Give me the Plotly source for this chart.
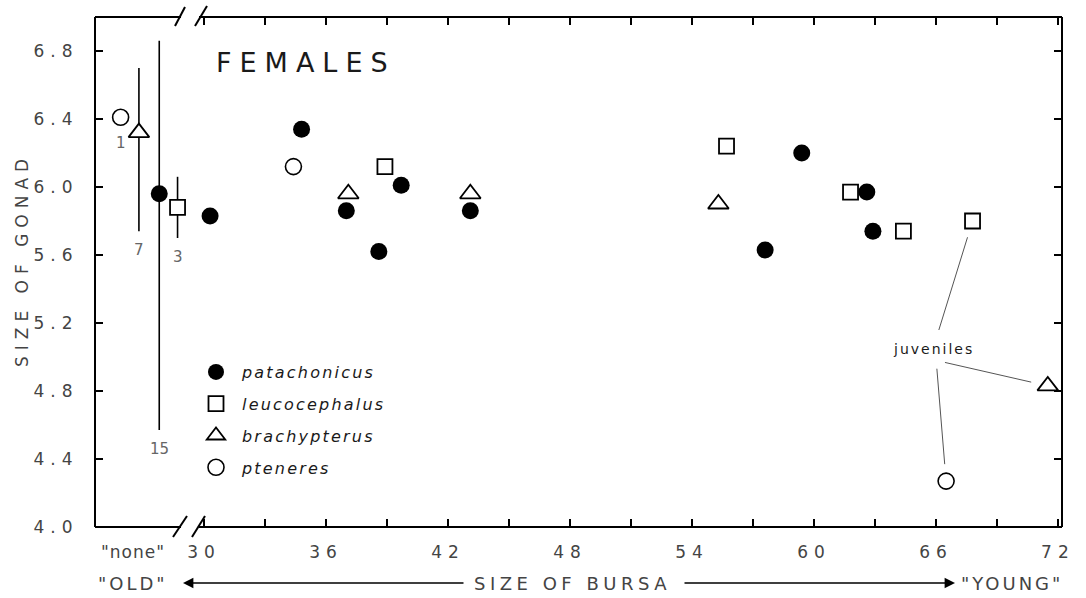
import plotly.graph_objects as go

# ---------------- data ----------------
species = ["patachonicus", "leucocephalus", "brachypterus", "pteneres"]

pat_bursa = [30.3, 34.8, 37.0, 38.6, 39.7, 43.1, 57.6, 59.4, 62.6, 62.9]
pat_gonad = [5.83, 6.34, 5.86, 5.62, 6.01, 5.86, 5.63, 6.20, 5.97, 5.74]
leu_bursa = [38.9, 55.7, 61.8, 64.4, 67.8]
leu_gonad = [6.12, 6.24, 5.97, 5.74, 5.80]
bra_bursa = [37.1, 43.1, 55.3, 71.5]
bra_gonad = [5.96, 5.96, 5.90, 4.83]
pte_bursa = [34.4, 66.5]
pte_gonad = [6.12, 4.27]

# birds with no bursa ("none"): mean gonad size, range, sample size
none_species = ["pteneres", "brachypterus", "patachonicus", "leucocephalus"]
none_x = [25.9, 26.8, 27.8, 28.7]
none_mean = [6.41, 6.32, 5.96, 5.88]
none_high = [6.41, 6.70, 6.86, 6.06]
none_low = [6.41, 5.74, 4.57, 5.70]
none_n = [1, 7, 15, 3]

# juveniles (species, index into that species' arrays)
juveniles = [("leucocephalus", 4), ("brachypterus", 3), ("pteneres", 1)]
juv_label_xy = (65.87, 5.05)
juv_tails = [(66.12, 5.15), (66.37, 4.97), (66.04, 4.94)]

x_ticks = list(range(30, 73, 3))
y_ticks = [4.0, 4.4, 4.8, 5.2, 5.6, 6.0, 6.4, 6.8]

data = {
    "patachonicus": (pat_bursa, pat_gonad),
    "leucocephalus": (leu_bursa, leu_gonad),
    "brachypterus": (bra_bursa, bra_gonad),
    "pteneres": (pte_bursa, pte_gonad),
}

# ---------------- styles ----------------
FONT = "DejaVu Sans"
INK = "#1a1a1a"
GREY = "#444444"

def ls(text, px):
    return f'<span style="letter-spacing:{px}px">{text}</span>'

marker_style = {
    "patachonicus": dict(symbol="circle", size=17, color="black", line=dict(color="black", width=0)),
    "leucocephalus": dict(symbol="square", size=15, color="white", line=dict(color="black", width=1.8)),
    "brachypterus": dict(symbol="triangle-up", size=18, color="white", line=dict(color="black", width=1.8)),
    "pteneres": dict(symbol="circle", size=16, color="white", line=dict(color="black", width=1.6)),
}

fig = go.Figure()

for sp in species:
    xs, ys = data[sp]
    fig.add_trace(go.Scatter(
        x=xs, y=ys, mode="markers", name=ls(f"<i>{sp}</i>", 2.2),
        legendgroup=sp, marker=marker_style[sp], hoverinfo="x+y",
    ))

for sp, x, m, hi, lo, n in zip(none_species, none_x, none_mean, none_high, none_low, none_n):
    fig.add_trace(go.Scatter(
        x=[x], y=[m], mode="markers", showlegend=False, marker=marker_style[sp],
        error_y=dict(type="data", symmetric=False, array=[hi - m], arrayminus=[m - lo],
                     width=0, thickness=1.6, color="black", visible=n > 1),
    ))

# ---------------- layout geometry ----------------
L, R, T, B = 95, 24, 17, 71
W, H = 1086, 598
PW, PH = W - L - R, H - T - B

def px(xp):
    return (xp - L) / PW

def py(yp):
    return (H - B - yp) / PH

shapes = []
line = dict(color="black", width=2)
gap0, gap1 = px(181), px(199)
shapes += [
    dict(type="line", xref="paper", yref="paper", x0=0, x1=0, y0=0, y1=1, line=line),
    dict(type="line", xref="paper", yref="paper", x0=1, x1=1, y0=0, y1=1, line=line),
    dict(type="line", xref="paper", yref="paper", x0=0, x1=gap0, y0=1, y1=1, line=line),
    dict(type="line", xref="paper", yref="paper", x0=gap1, x1=1, y0=1, y1=1, line=line),
    dict(type="line", xref="paper", yref="paper", x0=0, x1=gap0, y0=0, y1=0, line=line),
    dict(type="line", xref="paper", yref="paper", x0=gap1, x1=1, y0=0, y1=0, line=line),
]
for (a, b, c, d) in [(175, 26, 185, 7), (195, 26, 207, 6), (173, 537, 187, 516), (192, 537, 205, 516)]:
    shapes.append(dict(type="line", xref="paper", yref="paper",
                       x0=px(a), y0=py(b), x1=px(c), y1=py(d), line=dict(color="black", width=2)))

def label(text, xp, yp, size, color=GREY, **kw):
    d = dict(text=text, xref="paper", yref="paper", x=px(xp), y=py(yp),
             xanchor="center", yanchor="middle", showarrow=False,
             font=dict(family=FONT, size=size, color=color))
    d.update(kw)
    return d

ann = []
ann.append(label(ls("FEMALES", 8), 214, 62, 27, INK, xanchor="left"))
ann.append(label(ls("SIZE OF GONAD", 6), 22, 260, 17, textangle=-90))
ann.append(label(ls('"none"', 1), 133, 552, 17))
ann.append(label(ls('"OLD"', 3), 133, 583, 18))
ann.append(label(ls("SIZE OF BURSA", 4.5), 572, 583, 18))
ann.append(label(ls('"YOUNG"', 3), 1012, 583, 18))
ann.append(dict(text="", xref="paper", yref="paper", x=px(183), y=py(583), ax=465 - 183, ay=0,
                showarrow=True, arrowhead=2, arrowsize=1.3, arrowwidth=1.6, arrowcolor="black"))
ann.append(dict(text="", xref="paper", yref="paper", x=px(955), y=py(583), ax=683 - 955, ay=0,
                showarrow=True, arrowhead=2, arrowsize=1.3, arrowwidth=1.6, arrowcolor="black"))
# sample sizes
for x, m, lo, n in zip(none_x, none_mean, none_low, none_n):
    ann.append(dict(text=str(n), x=x, y=lo, yanchor="top", yshift=-15 if n == 1 else -8,
                    showarrow=False, font=dict(family=FONT, size=15, color="#666666")))
# juveniles
ann.append(dict(text=ls("juveniles", 2), x=juv_label_xy[0], y=juv_label_xy[1], showarrow=False,
                font=dict(family=FONT, size=14, color=INK)))
for (sp, i), (tx, ty) in zip(juveniles, juv_tails):
    xs, ys = data[sp]
    ann.append(dict(text="", x=xs[i], y=ys[i], ax=tx, ay=ty, axref="x", ayref="y",
                    showarrow=True, arrowhead=0, arrowwidth=1, arrowcolor="#555555", standoff=17))

fig.update_layout(
    width=W, height=H, autosize=False,
    margin=dict(l=L, r=R, t=T, b=B, pad=0),
    paper_bgcolor="white", plot_bgcolor="white",
    shapes=shapes, annotations=ann,
    showlegend=True,
    legend=dict(x=px(190), y=py(355), xanchor="left", yanchor="top",
                font=dict(family=FONT, size=16, color=INK), bgcolor="rgba(0,0,0,0)",
                tracegroupgap=8, itemsizing="trace", traceorder="grouped", itemwidth=42),
    xaxis=dict(range=[24.64, 72.2], tickmode="array", tickvals=x_ticks,
               ticktext=[ls(str(v), 6) if v % 6 == 0 else "" for v in x_ticks],
               ticks="inside", ticklen=8, tickwidth=1.5, tickcolor="black",
               showline=True, linecolor="rgba(0,0,0,0)", mirror="ticks",
               showgrid=False, zeroline=False, ticklabelstandoff=10,
               tickfont=dict(family=FONT, size=17, color=GREY)),
    yaxis=dict(range=[4.0, 7.0], tickmode="array", tickvals=y_ticks,
               ticktext=[ls(f"{v:.1f}", 6) for v in y_ticks],
               ticks="inside", ticklen=8, tickwidth=1.5, tickcolor="black",
               showline=True, linecolor="rgba(0,0,0,0)", mirror="ticks",
               showgrid=False, zeroline=False, ticklabelstandoff=12,
               tickfont=dict(family=FONT, size=17, color=GREY)),
)

fig.write_html("out.html")
